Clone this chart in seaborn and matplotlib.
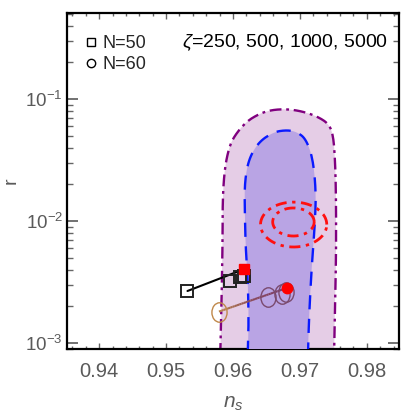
import numpy as np
import pandas as pd
import matplotlib
matplotlib.use("Agg")
import matplotlib.pyplot as plt
import seaborn as sns
from matplotlib.markers import MarkerStyle
from matplotlib.transforms import Affine2D
from matplotlib.lines import Line2D
from matplotlib.collections import LineCollection
from matplotlib.colors import LinearSegmentedColormap
from matplotlib.ticker import LogLocator, MultipleLocator, FixedLocator, NullFormatter

# ---------------- data ----------------
zeta = [250, 500, 1000, 5000]
ns_N50 = [0.9532, 0.9595, 0.9610, 0.9616]
r_N50 = [0.00267, 0.00322, 0.00348, 0.00354]
ns_N50_lim = [0.9617]
r_N50_lim = [0.00404]

ns_N60 = [0.9579, 0.9653, 0.9673, 0.9679]
r_N60 = [0.00181, 0.00237, 0.00252, 0.00261]
ns_N60_lim = [0.9680]
r_N60_lim = [0.00282]

# 2 sigma region (outer) and 1 sigma region (inner), boundary
outer_ns = [0.9581, 0.9583, 0.95845, 0.95845, 0.95875, 0.95935, 0.9601, 0.9619, 0.96385,
            0.96565, 0.9679, 0.97015, 0.9724, 0.9742, 0.97495, 0.97525, 0.9754, 0.9754,
            0.97525, 0.9751]
outer_r = [0.0008, 0.00230, 0.00712, 0.0151, 0.0267, 0.0389, 0.0489, 0.0647, 0.0753,
           0.0812, 0.0828, 0.0797, 0.0727, 0.0635, 0.0516, 0.0322, 0.0151, 0.00488,
           0.00230, 0.0008]
inner_ns = [0.9622, 0.96235, 0.9622, 0.9619, 0.96175, 0.96175, 0.96235, 0.96385, 0.9661,
            0.96805, 0.96955, 0.9709, 0.97195, 0.9724, 0.97225, 0.97195, 0.97165, 0.97135,
            0.9712]
inner_r = [0.0008, 0.00157, 0.00335, 0.00589, 0.01254, 0.0209, 0.0322, 0.0445, 0.0537,
           0.0557, 0.0537, 0.0470, 0.0322, 0.0173, 0.00981, 0.00589, 0.00335, 0.00157,
           0.0008]

# future-experiment ellipses: centre ns, centre log10 r, half width ns, half height log10 r
ell_ns_c = [0.96906, 0.96903]
ell_logr_c = [-2.029, -2.008]
ell_ns_w = [0.00495, 0.0031]
ell_logr_h = [0.184, 0.115]

xticks = [0.94, 0.95, 0.96, 0.97, 0.98]
xticklabels = ['0.94', '0.95', '0.96', '0.97', '0.98']


def chaikin(xs, ys, n_iter=3):
    """Corner-cutting smoothing of an open boundary in (ns, log r) space."""
    p = np.column_stack([np.asarray(xs) / 0.01, np.log10(ys)])
    for _ in range(n_iter):
        q = [p[0]]
        for a, b in zip(p[:-1], p[1:]):
            q.append(0.75 * a + 0.25 * b)
            q.append(0.25 * a + 0.75 * b)
        q.append(p[-1])
        p = np.array(q)
    return p[:, 0] * 0.01, 10 ** p[:, 1]


# ---------------- style ----------------
sns.set_style("ticks")
plt.rcParams['font.family'] = ['Liberation Sans', 'DejaVu Sans']
plt.rcParams['mathtext.fontset'] = 'custom'
plt.rcParams['mathtext.rm'] = 'Liberation Sans'
plt.rcParams['mathtext.it'] = 'Liberation Sans:italic'
gray = '#5a5a5a'

fig = plt.figure(figsize=(4.07, 4.15), dpi=100)
ax = fig.add_axes([67/407, 66/415, 332/407, 336/415])
ax.set_yscale('log')
ax.set_xlim(0.9352, 0.9848)
ax.set_ylim(10**-3.049, 10**-0.295)

# contours
ox, oy = chaikin(outer_ns, outer_r)
ix, iy = chaikin(inner_ns, inner_r)
ax.fill(ox, oy, color='#e5cde6', lw=0, zorder=1)
ax.plot(ox, oy, color='#80007f', lw=1.7, ls=(0, (5, 2, 1.2, 2)), zorder=2)
ax.fill(ix, iy, color='#b9a4e4', lw=0, zorder=3)
ax.plot(ix, iy, color='#0a1aff', lw=1.7, ls=(0, (6, 4)), zorder=4)

t = np.linspace(0, 2*np.pi, 200)
for c, lc, w, h in zip(ell_ns_c, ell_logr_c, ell_ns_w, ell_logr_h):
    ax.plot(c + w*np.cos(t), 10**(lc + h*np.sin(t)), color='#ff1010', lw=2.0,
            ls=(0, (4, 2, 1.2, 2)), zorder=5)

# N=50 line and markers
df50 = pd.DataFrame({'ns': [ns_N50[0], ns_N50_lim[0]], 'r': [r_N50[0], r_N50_lim[0]]})
sns.lineplot(data=df50, x='ns', y='r', ax=ax, color='black', lw=1.5, sort=False,
             estimator=None, zorder=6)
ax.plot(ns_N50, r_N50, ls='none', marker='s', ms=8.5, mfc='none', mec='#222222', mew=1.4, zorder=7)
ax.plot(ns_N50_lim, r_N50_lim, ls='none', marker='s', ms=7, mfc='#ff0000', mec='#ff0000', zorder=8)

# N=60 gradient line
n = 30
xs = np.linspace(ns_N60[0], ns_N60_lim[0], n + 1)
ys = np.logspace(np.log10(r_N60[0]), np.log10(r_N60_lim[0]), n + 1)
segs = [[(xs[i], ys[i]), (xs[i+1], ys[i+1])] for i in range(n)]
cmap = LinearSegmentedColormap.from_list('bp', ['#b8824a', '#8a4a5a', '#7a3a6a'])
lc_ = LineCollection(segs, colors=cmap(np.linspace(0, 1, n)), lw=1.5, zorder=6)
ax.add_collection(lc_)
ell_marker = MarkerStyle('o', transform=Affine2D().scale(0.78, 1.0))
circ_cols = ['#c0884a', '#7a4a6e', '#7a4a6e', '#7a4a6e']
for x, y, c in zip(ns_N60, r_N60, circ_cols):
    ax.plot([x], [y], ls='none', marker=ell_marker, ms=14, mfc='none', mec=c, mew=1.0, zorder=7)
ax.plot(ns_N60_lim, r_N60_lim, ls='none', marker='o', ms=7.5, mfc='#ff0000', mec='#ff0000', zorder=8)

# axes styling
for s in ax.spines.values():
    s.set_linewidth(1.6)
    s.set_color('black')
ax.xaxis.set_major_locator(FixedLocator(xticks))
ax.xaxis.set_minor_locator(MultipleLocator(0.002))
ax.yaxis.set_major_locator(LogLocator(base=10, numticks=10))
ax.yaxis.set_minor_locator(LogLocator(base=10, subs=np.arange(2, 10), numticks=10))
ax.yaxis.set_minor_formatter(NullFormatter())
ax.tick_params(which='both', direction='in', top=True, right=True, colors='#666666',
               labelcolor=gray)
ax.tick_params(axis='x', which='major', length=4, width=1.0, pad=9, labelsize=14.5)
ax.tick_params(axis='x', which='minor', length=2.5, width=1.0)
ax.tick_params(axis='y', which='major', length=8, width=1.3, pad=3, labelsize=13.5)
ax.tick_params(axis='y', which='minor', length=4.5, width=1.0)
ax.set_xticklabels(xticklabels)

ax.set_xlabel(r'$n_s$', color=gray, fontsize=15, labelpad=10)
ax.set_ylabel('r', color=gray, fontsize=14)
ax.yaxis.set_label_coords(-0.143, 0.5)

ax.text(0.967, 0.911, r'$\zeta$=250, 500, 1000, 5000', transform=ax.transAxes,
        ha='right', va='center', fontsize=14, color='black', zorder=10)

handles = [Line2D([], [], ls='none', marker='s', ms=6, mfc='none', mec='black', mew=1.0),
           Line2D([], [], ls='none', marker='o', ms=6, mfc='none', mec='black', mew=1.0)]
ax.legend(handles, ['N=50', 'N=60'], loc='upper left', frameon=False, fontsize=13,
          handlelength=0.55, handletextpad=0.35, labelspacing=0.2,
          bbox_to_anchor=(0.035, 0.955), borderaxespad=0)

fig.savefig('out.png', dpi=100)
